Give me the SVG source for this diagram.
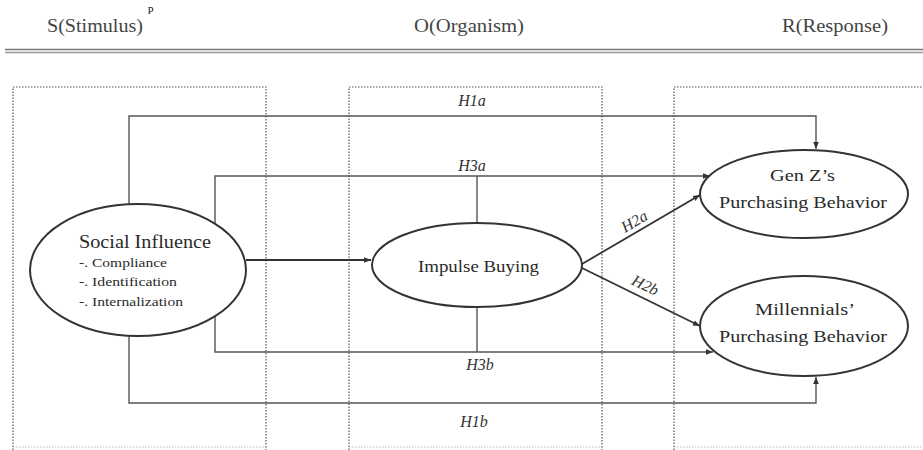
<svg xmlns="http://www.w3.org/2000/svg" width="923" height="450" viewBox="0 0 923 450">
<style>
.hdr{font-family:"Liberation Serif","Times New Roman","DejaVu Serif",serif;font-size:19px;fill:#444}
.node{fill:#fff;stroke:#333;stroke-width:2}
.nt{font-family:"Liberation Serif","Times New Roman","DejaVu Serif",serif;fill:#2a2a2a}
.lbl{font-family:"Liberation Serif","Times New Roman","DejaVu Serif",serif;font-style:italic;font-size:16px;fill:#333}
.box{fill:none;stroke:#555;stroke-width:1.2;stroke-dasharray:1.5 1.5}
.boxb{fill:none;stroke:#bbb;stroke-width:1.2;stroke-dasharray:1.5 1.5}
.con{fill:none;stroke:#555;stroke-width:1.4}
.con2{fill:none;stroke:#333;stroke-width:1.8}
</style>
<defs>
<marker id="arr" viewBox="0 0 10 10" refX="10" refY="5" markerWidth="7" markerHeight="7" markerUnits="userSpaceOnUse" orient="auto">
<path d="M0,1 L10,5 L0,9 z" fill="#333"/>
</marker>
</defs>
<rect width="923" height="450" fill="#fff"/>
<text x="148" y="12" font-family="Liberation Serif, DejaVu Serif, serif" font-size="11" fill="#000">p</text>
<g id="headers">
<text class="hdr" x="47" y="32" textLength="96" lengthAdjust="spacingAndGlyphs">S(Stimulus)</text>
<text class="hdr" x="414" y="32" textLength="110" lengthAdjust="spacingAndGlyphs">O(Organism)</text>
<text class="hdr" x="782" y="32" textLength="106" lengthAdjust="spacingAndGlyphs">R(Response)</text>
<line x1="5" y1="49.5" x2="923" y2="49.5" stroke="#777" stroke-width="1.5"/>
<line x1="5" y1="52.5" x2="923" y2="52.5" stroke="#999" stroke-width="1.5"/>
</g>
<g id="panels">
<path class="box" d="M13,450 V87 H266 V450"/>
<path class="box" d="M349,450 V87 H602 V450"/>
<path class="box" d="M674,450 V87 H930"/>
<line class="boxb" x1="13" y1="447" x2="266" y2="447"/>
<line class="boxb" x1="349" y1="447" x2="602" y2="447"/>
<line class="boxb" x1="674" y1="447" x2="923" y2="447"/>
</g>
<g id="connectors">
<path class="con" d="M129,204 V116 H816 V149" marker-end="url(#arr)"/>
<path class="con" d="M215,224 V176 H710" marker-end="url(#arr)"/>
<path class="con" d="M477,223 V176"/>
<path class="con" d="M215,316 V352 H713" marker-end="url(#arr)"/>
<path class="con" d="M477,307 V352"/>
<path class="con" d="M129,336 V403 H816 V377" marker-end="url(#arr)"/>
<path class="con2" d="M246,260 H371" marker-end="url(#arr)"/>
<path class="con2" d="M582,264 L700,195" marker-end="url(#arr)"/>
<path class="con2" d="M582,268 L700,326" marker-end="url(#arr)"/>
<text class="lbl" x="472" y="106" text-anchor="middle">H1a</text>
<text class="lbl" x="472" y="171" text-anchor="middle">H3a</text>
<text class="lbl" x="480" y="370" text-anchor="middle">H3b</text>
<text class="lbl" x="474" y="427" text-anchor="middle">H1b</text>
<text class="lbl" x="0" y="0" text-anchor="middle" transform="translate(637,226) rotate(-30)">H2a</text>
<text class="lbl" x="0" y="0" text-anchor="middle" transform="translate(643,290) rotate(26)">H2b</text>
</g>
<g id="social-influence">
<ellipse class="node" cx="138" cy="270" rx="108" ry="66"/>
<text class="nt" x="79" y="248" font-size="18" textLength="132" lengthAdjust="spacingAndGlyphs">Social Influence</text>
<text class="nt" x="79" y="267" font-size="13" textLength="88" lengthAdjust="spacingAndGlyphs">-. Compliance</text>
<text class="nt" x="79" y="286" font-size="13" textLength="98" lengthAdjust="spacingAndGlyphs">-. Identification</text>
<text class="nt" x="79" y="306" font-size="13" textLength="104" lengthAdjust="spacingAndGlyphs">-. Internalization</text>
</g>
<g id="impulse-buying">
<ellipse class="node" cx="477" cy="265" rx="105" ry="42"/>
<text class="nt" x="418" y="272" font-size="17" textLength="121" lengthAdjust="spacingAndGlyphs">Impulse Buying</text>
</g>
<g id="genz">
<ellipse class="node" cx="804" cy="194" rx="104" ry="44"/>
<text class="nt" x="770" y="181" font-size="16" textLength="65" lengthAdjust="spacingAndGlyphs">Gen Z’s</text>
<text class="nt" x="719" y="208" font-size="16" textLength="168" lengthAdjust="spacingAndGlyphs">Purchasing Behavior</text>
</g>
<g id="millennials">
<ellipse class="node" cx="804" cy="326" rx="104" ry="50"/>
<text class="nt" x="755" y="315" font-size="16" textLength="100" lengthAdjust="spacingAndGlyphs">Millennials’</text>
<text class="nt" x="719" y="342" font-size="16" textLength="168" lengthAdjust="spacingAndGlyphs">Purchasing Behavior</text>
</g>
</svg>
